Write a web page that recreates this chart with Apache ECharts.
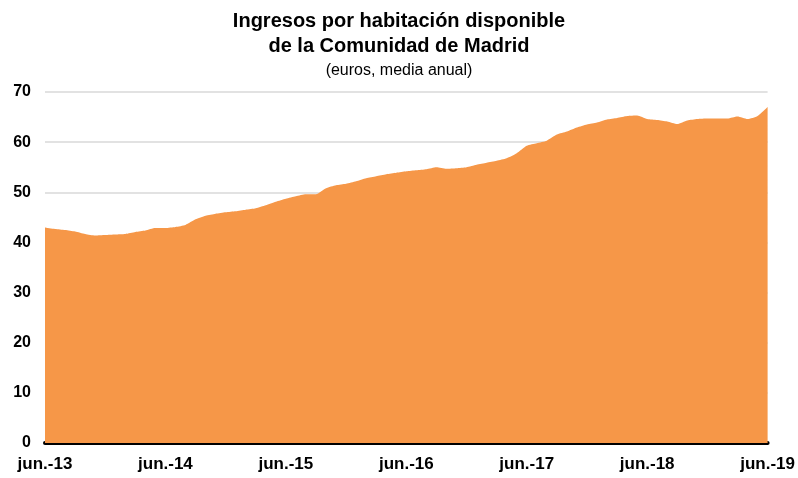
<!DOCTYPE html>
<html>
<head>
<meta charset="utf-8">
<script src="https://cdn.jsdelivr.net/npm/echarts@6/dist/echarts.min.js"></script>
<style>html,body{margin:0;padding:0;background:#fff}#c{width:798px;height:478px}</style>
</head>
<body>
<div id="c"></div>
<script>
var monthNames = ["jun.","jul.","ago.","sep.","oct.","nov.","dic.","ene.","feb.","mar.","abr.","may."];
var startYear = 13;
var categories = [];
for (var i = 0; i < 73; i++) {
  var y = startYear + Math.floor((i + 5) / 12);
  categories.push(monthNames[i % 12] + "-" + y);
}
var values = [
  43.0, 42.7, 42.5, 42.2, 41.7, 41.4, 41.5, 41.6, 41.7, 42.1, 42.4, 42.9, 42.9, 43.1, 43.5, 44.6,
  45.3, 45.7, 46.0, 46.2, 46.5, 46.8, 47.4, 48.1, 48.7, 49.2, 49.6, 49.6, 50.8, 51.4, 51.7,
  52.2, 52.8, 53.2, 53.6, 53.9, 54.2, 54.4, 54.6, 55.0, 54.7, 54.8, 55.0, 55.5, 55.9, 56.3,
  56.8, 57.8, 59.3, 59.8, 60.3, 61.5, 62.1, 62.9, 63.5, 63.9, 64.5, 64.8, 65.2, 65.3, 64.6,
  64.4, 64.1, 63.6, 64.3, 64.6, 64.7, 64.7, 64.7, 65.1, 64.6, 65.2, 67.0
];
var titleText = "Ingresos por habitación disponible\nde la Comunidad de Madrid";
var subtitleText = "(euros, media anual)";

var chart = echarts.init(document.getElementById('c'));
chart.setOption({
  animation: false,
  backgroundColor: '#fff',
  title: {
    text: titleText,
    subtext: subtitleText,
    left: 'center',
    top: 4,
    itemGap: 4,
    textStyle: { fontFamily: 'Liberation Sans', fontWeight: 'bold', fontSize: 20, color: '#000', lineHeight: 25 },
    subtextStyle: { fontFamily: 'Liberation Sans', fontSize: 16, color: '#000' }
  },
  grid: { left: 45, right: 30, top: 92, bottom: 35 },
  xAxis: {
    type: 'category',
    data: categories,
    boundaryGap: false,
    axisLine: { show: true, lineStyle: { color: '#000', width: 4 } },
    axisTick: { show: false },
    axisLabel: {
      interval: 11,
      margin: 13,
      color: '#000',
      fontFamily: 'Liberation Sans',
      fontWeight: 'bold',
      fontSize: 17,
      showMaxLabel: true
    },
    splitLine: { show: false }
  },
  yAxis: {
    type: 'value',
    min: 0,
    max: 70,
    interval: 10,
    axisLine: { show: false },
    axisTick: { show: false },
    axisLabel: {
      color: '#000',
      fontFamily: 'Liberation Sans',
      fontWeight: 'bold',
      fontSize: 16,
      margin: 14
    },
    splitLine: { show: true, lineStyle: { color: '#d9d9d9', width: 1.5 } }
  },
  series: [{
    type: 'line',
    data: values,
    showSymbol: false,
    smooth: 0.2,
    lineStyle: { width: 0 },
    areaStyle: { color: '#F69748', opacity: 1 },
    z: 1
  }]
});
</script>
</body>
</html>
